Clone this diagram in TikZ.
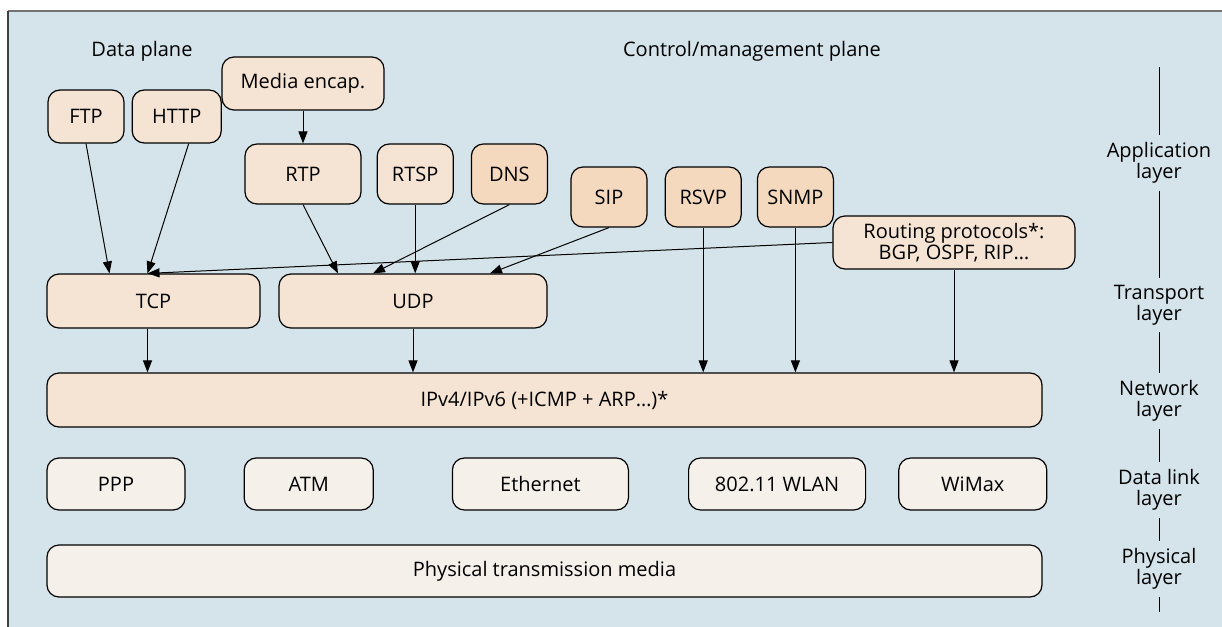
\documentclass[tikz,border=0pt]{standalone}
\usepackage{fontspec}
\setmainfont{Open Sans}
\usepackage{tikz}
\usetikzlibrary{calc}
\usetikzlibrary{positioning,shapes,arrows.meta,backgrounds}
\definecolor{planebg}{HTML}{D5E4EA}
\definecolor{protolight}{HTML}{F5E4D3}
\definecolor{protodark}{HTML}{F5D9BE}
\definecolor{linkcream}{HTML}{F5F0EA}
\tikzstyle{LIGHT_COLOR} = [fill=protolight]
\tikzstyle{DARK_COLOR}  = [fill=protodark]
\tikzstyle{LINK_COLOR}  = [fill=linkcream]
\tikzstyle{proto}      = [rectangle, draw, line width=0.6pt, rounded corners=6pt, inner sep=2pt, align=center]
\tikzstyle{app_box}    = [proto, LIGHT_COLOR, minimum width=38pt, minimum height=30pt]
\tikzstyle{ctl_box}    = [proto, DARK_COLOR, minimum width=38pt, minimum height=30pt]
\tikzstyle{top_box}    = [proto, LIGHT_COLOR, minimum height=26.5pt]
\tikzstyle{link_box}   = [proto, LINK_COLOR, minimum height=26pt]
\tikzstyle{layer_name} = [align=center]
\tikzstyle{arr}        = [-{Triangle[length=6pt,width=4.5pt]}, line width=0.5pt]

\begin{document}
\begin{tikzpicture}[x=0.5pt, y=-0.5pt, node distance = 1cm and 0cm,
    font=\fontsize{10}{10.5}\selectfont]
  \useasboundingbox (0,0) rectangle (1222,627);
  % panel
  \fill[planebg] (8,11) rectangle (1222,627);
  \draw[line width=1pt, black!55] (8,11) -- (1222,11);
  \draw[line width=0.6pt, black!75] (8,627) -- (8,11);

  \node (dataplane) at (142,51) {Data plane};
  \node (ctrlplane) at (752,51) {Control/management plane};

  % application layer
  \node[top_box, minimum width=38pt] (ftp) at (86,116.5) {FTP};
  \node[top_box, minimum width=44.5pt, right=3.5pt of ftp] (http) {HTTP};
  \node[top_box, minimum width=81pt] (media) at (303,83.5) {Media encap.};
  \node[app_box, minimum width=58pt] (rtp) at (303,174) {RTP};
  \node[app_box, right=7.5pt of rtp] (rtsp) {RTSP};
  \node[ctl_box, right=8.5pt of rtsp] (dns) {DNS};
  \node[ctl_box] (sip) at (609,197) {SIP};
  \node[ctl_box, right=8.5pt of sip] (rsvp) {RSVP};
  \node[ctl_box, right=7.5pt of rsvp] (snmp) {SNMP};
  \node[top_box, minimum width=121pt] (routing) at (954,242.5) {Routing protocols*:\\BGP, OSPF, RIP\ldots};

  % transport and network layer
  \node[top_box, minimum width=106.5pt, minimum height=27pt] (tcp) at (153.5,301) {TCP};
  \node[top_box, minimum width=134pt, minimum height=27pt] (udp) at (413,301) {UDP};
  \node[top_box, minimum width=497.5pt, minimum height=27pt] (ip) at (544.5,400) {IPv4/IPv6 (+ICMP + ARP\ldots)*};

  % data link and physical layer
  \node[link_box, minimum width=69pt] (ppp) at (116,484) {PPP};
  \node[link_box, minimum width=64.5pt, right=29pt of ppp] (atm) {ATM};
  \node[link_box, minimum width=88pt, right=39pt of atm] (eth) {Ethernet};
  \node[link_box, minimum width=88.5pt, right=29.5pt of eth] (wlan) {802.11 WLAN};
  \node[link_box, minimum width=74pt, right=16pt of wlan] (wimax) {WiMax};
  \node[link_box, minimum width=497.5pt] (phy) at (544.5,571) {Physical transmission media};

  % arrows
  \draw[arr] (ftp.south) -- ([xshift=-22pt]tcp.north);
  \draw[arr] ([xshift=6pt]http.south) -- ([xshift=-3pt]tcp.north);
  \draw[arr] (routing.west) -- ([xshift=-3pt]tcp.north);
  \draw[arr] (media) -- (rtp);
  \draw[arr] (rtp.south) -- ([xshift=-37.5pt]udp.north);
  \draw[arr] (rtsp.south) -- (rtsp.south |- udp.north);
  \draw[arr] (dns.south) -- ([xshift=-20pt]udp.north);
  \draw[arr] (sip.south) -- ([xshift=38.5pt]udp.north);
  \draw[arr] ([xshift=-3pt]tcp.south) -- ([xshift=-3pt]tcp.south |- ip.north);
  \draw[arr] (udp.south) -- (udp.south |- ip.north);
  \draw[arr] (rsvp.south) -- (rsvp.south |- ip.north);
  \draw[arr] (snmp.south) -- (snmp.south |- ip.north);
  \draw[arr] (routing.south) -- (routing.south |- ip.north);

  % layer names
  \coordinate (scaletop) at (1159,67);
  \coordinate (scalebot) at (1159,612);
  \node[layer_name] (applayer) at (1159,163) {Application\\layer};
  \node[layer_name] (translayer) at (1159,305) {Transport\\layer};
  \node[layer_name] (netlayer) at (1159,401) {Network\\layer};
  \node[layer_name] (linklayer) at (1159,490) {Data link\\layer};
  \node[layer_name] (phylayer) at (1159,569) {Physical\\layer};
  \draw[line width=0.5pt] (scaletop) -- (applayer);
  \draw[line width=0.5pt] (applayer) -- (translayer);
  \draw[line width=0.5pt] (translayer) -- (netlayer);
  \draw[line width=0.5pt] (netlayer) -- (linklayer);
  \draw[line width=0.5pt] (linklayer) -- (phylayer);
  \draw[line width=0.5pt] (phylayer) -- (scalebot);
\end{tikzpicture}
\end{document}
